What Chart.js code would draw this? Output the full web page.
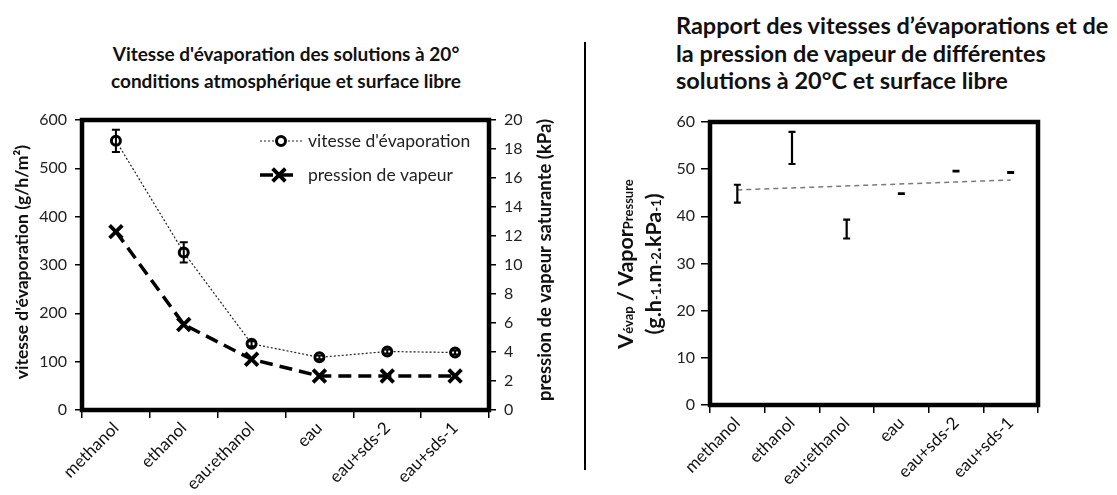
<!DOCTYPE html>
<html lang="fr">
<head>
<meta charset="UTF-8">
<title>Vitesse d'évaporation et pression de vapeur</title>
<script src="https://cdn.jsdelivr.net/npm/chart.js"></script>
<style>
    * { margin: 0; padding: 0; box-sizing: border-box; }
    body {
        width: 1117px;
        height: 495px;
        background: #fff;
        position: relative;
        overflow: hidden;
        font-family: Lato, 'Open Sans', sans-serif;
        color: #111;
    }
    .titre {
        position: absolute;
        font-weight: bold;
        color: #111;
        white-space: nowrap;
    }
    #titre1 { left: 0; width: 572px; top: 40px; text-align: center; font-size: 19px; line-height: 27px; }
    #titre2 { left: 676px; top: 12px; font-size: 23.5px; line-height: 27.5px; }
    #sep { position: absolute; left: 584px; top: 42px; width: 2px; height: 428px; background: #000; }
    canvas { position: absolute; top: 0; }
    #c1 { left: 0; }
    #c2 { left: 590px; }
</style>
</head>
<body>
<div class="titre" id="titre1">Vitesse d'évaporation des solutions à 20°<br>conditions atmosphérique et surface libre</div>
<div class="titre" id="titre2">Rapport des vitesses d’évaporations et de<br>la pression de vapeur de différentes<br>solutions à 20°C et surface libre</div>
<div id="sep"></div>
<canvas id="c1" width="585" height="495"></canvas>
<canvas id="c2" width="527" height="495"></canvas>

<script>
// données
const categories = ['methanol', 'ethanol', 'eau:ethanol', 'eau', 'eau+sds-2', 'eau+sds-1'];
const vitesse = [557, 326, 137, 109, 121, 119];          // g/h/m²
const vitesseErr = [23, 21, 5, 4, 4, 4];
const pression = [12.3, 5.9, 3.5, 2.34, 2.34, 2.34];     // kPa
const rapport = [44.8, 54.5, 37.3, 44.8, 49.6, 49.3];    // g.h-1.m-2.kPa-1
const rapportErr = [1.9, 3.4, 2.0, 0.05, 0.05, 0.1];
const tendance = [45.6, null, null, null, null, 47.7];

const police = "Lato, 'Open Sans', sans-serif";
Chart.defaults.font.family = police;
Chart.defaults.color = '#222';
Chart.defaults.animation = false;

// cadre noir épais autour de la zone de tracé
const cadre = {
    id: 'cadre',
    beforeDatasetsDraw(chart) {
        const a = chart.chartArea, c = chart.ctx;
        c.save();
        c.strokeStyle = '#000';
        c.lineWidth = 4.5;
        c.strokeRect(a.left, a.top, a.right - a.left, a.bottom - a.top);
        c.restore();
    }
};

// barres d'erreur verticales
function barresErreur(index, erreurs, demiCap, epaisseur) {
    return {
        id: 'barresErreur',
        afterDatasetsDraw(chart) {
            const meta = chart.getDatasetMeta(index);
            const ds = chart.data.datasets[index];
            const echelle = chart.scales[meta.yAxisID];
            const c = chart.ctx;
            c.save();
            c.strokeStyle = '#000';
            c.lineWidth = epaisseur;
            erreurs.forEach((e, i) => {
                const x = meta.data[i].x;
                const yh = echelle.getPixelForValue(ds.data[i] + e);
                const yb = echelle.getPixelForValue(ds.data[i] - e);
                c.beginPath();
                c.moveTo(x, yh); c.lineTo(x, yb);
                c.moveTo(x - demiCap, yh); c.lineTo(x + demiCap, yh);
                c.moveTo(x - demiCap, yb); c.lineTo(x + demiCap, yb);
                c.stroke();
            });
            c.restore();
        }
    };
}

// titres d'axes tournés (avec indices)
function titresAxes(lignes) {
    return {
        id: 'titresAxes',
        afterDraw(chart) {
            const c = chart.ctx;
            lignes.forEach(l => {
                c.save();
                c.translate(l.x, l.y);
                c.rotate(-Math.PI / 2);
                c.fillStyle = '#111';
                c.textBaseline = 'middle';
                let total = 0;
                l.morceaux.forEach(m => { c.font = m.f; total += c.measureText(m.t).width; });
                let x = -total / 2;
                l.morceaux.forEach(m => {
                    c.font = m.f;
                    c.fillText(m.t, x, m.dy || 0);
                    x += c.measureText(m.t).width;
                });
                c.restore();
            });
        }
    };
}

// légende dans la zone de tracé
const legende = {
    id: 'legende',
    afterDraw(chart) {
        const c = chart.ctx;
        const lignes = [
            { ds: 0, y: 141, x0: 260, x1: 302, xm: 281 },
            { ds: 1, y: 175, x0: 260, x1: 296, xm: 279 }
        ];
        lignes.forEach(l => {
            const d = chart.data.datasets[l.ds];
            c.save();
            c.strokeStyle = d.borderColor;
            c.lineWidth = d.borderWidth;
            c.setLineDash(d.borderDash || []);
            c.beginPath();
            c.moveTo(l.x0, l.y); c.lineTo(l.x1, l.y);
            c.stroke();
            c.setLineDash([]);
            c.strokeStyle = d.pointBorderColor;
            c.fillStyle = d.pointBackgroundColor;
            c.lineWidth = d.pointBorderWidth;
            Chart.helpers.drawPoint(c, { pointStyle: d.pointStyle, radius: d.pointRadius, borderWidth: d.pointBorderWidth, rotation: 0 }, l.xm, l.y);
            c.fillStyle = '#222';
            c.font = '17.5px ' + police;
            c.textBaseline = 'middle';
            c.fillText(d.label, 308, l.y);
            c.restore();
        });
    }
};

function axeX() {
    return {
        offset: true,
        grid: { offset: true, drawOnChartArea: false, drawTicks: true, tickLength: 8, color: '#000', lineWidth: 1.5 },
        border: { display: false },
        ticks: { maxRotation: 45, minRotation: 45, autoSkip: false, font: { size: 17 }, color: '#111', padding: 0 }
    };
}

// graphique de gauche
new Chart(document.getElementById('c1'), {
    type: 'line',
    data: {
        labels: categories,
        datasets: [
            {
                label: "vitesse d'évaporation",
                data: vitesse,
                yAxisID: 'y',
                borderColor: '#222',
                borderWidth: 1.2,
                borderDash: [2, 2],
                pointStyle: 'circle',
                pointRadius: 4.5,
                pointBorderWidth: 3,
                pointBorderColor: '#000',
                pointBackgroundColor: '#fff',
                tension: 0
            },
            {
                label: 'pression de vapeur',
                data: pression,
                yAxisID: 'y2',
                borderColor: '#000',
                borderWidth: 3.5,
                borderDash: [13, 7],
                pointStyle: 'crossRot',
                pointRadius: 9,
                pointBorderWidth: 3.8,
                pointBorderColor: '#000',
                pointBackgroundColor: '#000',
                tension: 0
            }
        ]
    },
    options: {
        responsive: false,
        layout: { padding: { top: 120 } },
        plugins: { legend: { display: false }, tooltip: { enabled: false } },
        scales: {
            x: Object.assign(axeX(), { afterFit(s) { s.height = 85; } }),
            y: {
                min: 0, max: 600,
                ticks: { stepSize: 100, font: { size: 16 }, color: '#222', padding: 8 },
                grid: { drawOnChartArea: false, tickLength: 7, color: '#000', lineWidth: 1.5 },
                border: { display: false },
                afterFit(s) { s.width = 82; }
            },
            y2: {
                position: 'right',
                min: 0, max: 20,
                ticks: { stepSize: 2, font: { size: 16 }, color: '#222', padding: 8 },
                grid: { drawOnChartArea: false, tickLength: 7, color: '#000', lineWidth: 1.5 },
                border: { display: false },
                afterFit(s) { s.width = 96; }
            }
        }
    },
    plugins: [
        cadre,
        barresErreur(0, vitesseErr, 4, 2),
        legende,
        titresAxes([
            { x: 22, y: 262, morceaux: [{ t: "vitesse d'évaporation (g/h/m²)", f: 'bold 17.5px ' + police }] },
            { x: 545, y: 260, morceaux: [{ t: 'pression de vapeur saturante (kPa)', f: 'bold 18.5px ' + police }] }
        ])
    ]
});

// graphique de droite
const gros = 'bold 21.5px ' + police;
const petit = 'bold 13px ' + police;
new Chart(document.getElementById('c2'), {
    type: 'line',
    data: {
        labels: categories,
        datasets: [
            {
                label: 'Vévap / VaporPressure',
                data: rapport,
                showLine: false,
                pointRadius: 0,
                borderColor: '#000'
            },
            {
                label: 'tendance',
                data: tendance,
                spanGaps: true,
                borderColor: '#7a7a7a',
                borderWidth: 1.5,
                borderDash: [5, 4],
                pointRadius: 0,
                tension: 0
            }
        ]
    },
    options: {
        responsive: false,
        layout: { padding: { top: 122, right: 79 } },
        plugins: { legend: { display: false }, tooltip: { enabled: false } },
        scales: {
            x: Object.assign(axeX(), { afterFit(s) { s.height = 90; } }),
            y: {
                min: 0, max: 60,
                ticks: { stepSize: 10, font: { size: 16 }, color: '#222', padding: 6 },
                grid: { drawOnChartArea: false, tickLength: 9, color: '#000', lineWidth: 1.5 },
                border: { display: false },
                afterFit(s) { s.width = 120; }
            }
        }
    },
    plugins: [
        cadre,
        barresErreur(0, rapportErr, 3.5, 2.2),
        titresAxes([
            { x: 36, y: 264, morceaux: [
                { t: 'V', f: gros }, { t: 'évap', f: petit, dy: 3 },
                { t: ' / Vapor', f: gros }, { t: 'Pressure', f: petit, dy: 3 }
            ] },
            { x: 64, y: 264, morceaux: [
                { t: '(g.h', f: gros }, { t: '-1', f: petit, dy: 3 },
                { t: '.m', f: gros }, { t: '-2', f: petit, dy: 3 },
                { t: '.kPa', f: gros }, { t: '-1', f: petit, dy: 3 },
                { t: ')', f: gros }
            ] }
        ])
    ]
});
</script>
</body>
</html>
